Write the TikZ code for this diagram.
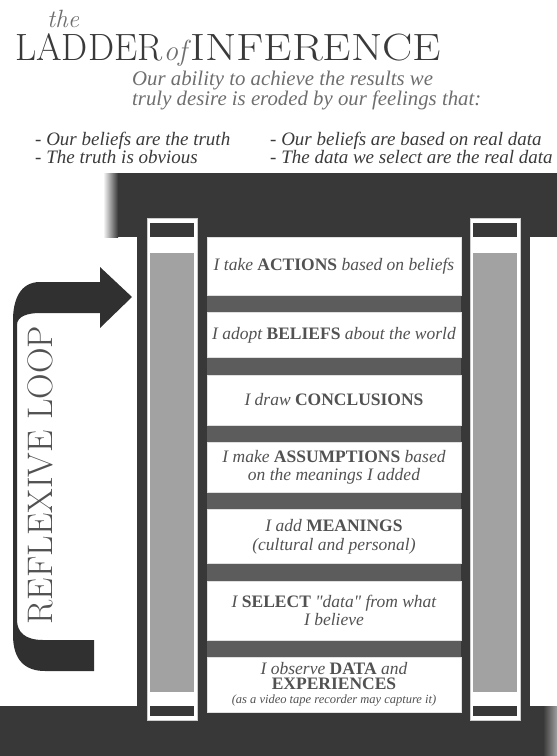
\documentclass[tikz,border=0pt]{standalone}
\usepackage{fontspec}
\newfontfamily\timesfont{Liberation Serif}
\usetikzlibrary{positioning}
\definecolor{banddark}{RGB}{56,56,56}
\definecolor{rungdark}{RGB}{92,92,92}
\definecolor{railgray}{RGB}{162,162,162}
\definecolor{textgray}{RGB}{82,82,82}
\definecolor{subgray}{RGB}{110,110,110}
\definecolor{titlegray}{RGB}{58,58,58}
\newcommand{\kw}[1]{\textbf{\upshape #1}}

\begin{document}
\begin{tikzpicture}[x=1pt, y=-1pt,
  node distance=16.5pt,
  rungbox/.style={fill=white, draw=gray!25, line width=0.8pt, minimum width=254pt, inner sep=0pt,
                  align=center, text=textgray, font=\timesfont\itshape\fontsize{17.5}{18.5}\selectfont},
  titletext/.style={anchor=base west, inner sep=0pt, text=titlegray, font=\fontsize{38}{38}\selectfont},
  titleital/.style={anchor=base west, inner sep=0pt, text=subgray, font=\itshape\fontsize{25}{25}\selectfont},
  subtext/.style={anchor=base west, inner sep=0pt, align=left, text=subgray,
                  font=\timesfont\itshape\fontsize{20.8}{20}\selectfont},
  listtext/.style={anchor=base west, inner sep=0pt, align=left, text=titlegray,
                   font=\timesfont\itshape\fontsize{19}{18}\selectfont}
]
  \useasboundingbox (0,0) rectangle (557,756);

  \node[titleital] (the) at (47,27) {the};
  \node[titletext] (ladder) at (15,60) {\scalebox{0.97}[1]{LADDER}};
  \node[titleital, font=\itshape\fontsize{29}{29}\selectfont] (of) at ([xshift=1pt]ladder.base east) {of};
  \node[titletext] (inference) at ([xshift=3pt]of.base east) {\scalebox{1.19}[1]{INFERENCE}};
  \node[subtext] (ability) at (132,105) {Our ability to achieve the results we\\truly desire is eroded by our feelings that:};
  \node[listtext] (truth) at (35,163) {- Our beliefs are the truth\\- The truth is obvious};
  \node[listtext] (realdata) at (270,163) {- Our beliefs are based on real data\\- The data we select are the real data};

  \fill[banddark] (118,173) rectangle (557,237);
  \shade[left color=white, right color=banddark] (103,173) rectangle (118,237);
  \fill[banddark] (0,706) rectangle (543,756);
  \shade[left color=banddark, right color=gray!75] (543,706) rectangle (557,756);

  \fill[banddark] (137,237) rectangle (530,706);
  \fill[rungdark] (207,237) rectangle (461,706);

  \foreach \rx in {147,470} {
    \filldraw[fill=white, draw=gray!40, line width=0.6pt] (\rx,218) rectangle ++(50,502);
    \fill[banddark] (\rx+3,223) rectangle ++(44,14);
    \fill[railgray] (\rx+3,253) rectangle ++(44,439);
    \fill[banddark] (\rx+3,706) rectangle ++(44,10);
  }

  \node[rungbox, minimum height=58pt, anchor=north] (actions) at (334,237) {I take \kw{ACTIONS} based on beliefs};
  \node[rungbox, minimum height=45pt, below=of actions] (beliefs) {I adopt \kw{BELIEFS} about the world};
  \node[rungbox, minimum height=50pt, below=of beliefs] (conclusions) {I draw \kw{CONCLUSIONS}};
  \node[rungbox, minimum height=50pt, below=of conclusions] (assumptions) {I make \kw{ASSUMPTIONS} based\\on the meanings I added};
  \node[rungbox, minimum height=54pt, below=of assumptions] (meanings) {I add \kw{MEANINGS}\\(cultural and personal)};
  \node[rungbox, minimum height=59pt, below=of meanings] (select) {I \kw{SELECT} "data" from what\\I believe};
  \node[rungbox, minimum height=55pt, below=of select, font=\timesfont\itshape\fontsize{17.5}{14.5}\selectfont] (observe)
    {I observe \kw{DATA} and\\\kw{EXPERIENCES}\\{\fontsize{12.5}{14}\selectfont (as a video tape recorder may capture it)}};

  \fill[banddark!85!black] (94,640) -- (43,640) .. controls (25,640) and (17,632) .. (17,620) -- (17,325)
    .. controls (17,316) and (28,313) .. (40,313) -- (100,313) -- (100,328) -- (132,297) -- (100,267)
    -- (100,282) -- (40,282) .. controls (20,282) and (13,300) .. (13,320) -- (13,635)
    .. controls (13,660) and (25,671) .. (45,671) -- (94,671) -- cycle;
  \node[rotate=90, inner sep=0pt, text=textgray, font=\fontsize{35.5}{35.5}\selectfont] (loop) at (40,475) {REFLEXIVE LOOP};
\end{tikzpicture}
\end{document}
